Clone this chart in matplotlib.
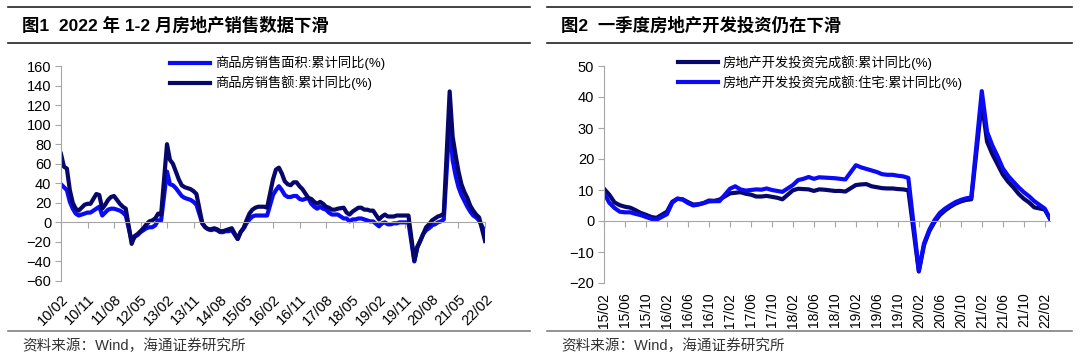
import numpy as np
import pandas as pd
import matplotlib
matplotlib.use('Agg')
import matplotlib.pyplot as plt
from matplotlib.lines import Line2D

plt.rcParams['font.family'] = ['Liberation Sans', 'Noto Sans CJK SC']

# 图1：商品房销售，累计同比(%)，每年2-12月（1月无数据）
sales_area = [
    39, 36, 33, 21, 14, 9, 7, 8, 9, 10, 10,           # 2010
    14, 16, 7, 10, 13, 14, 14, 13, 12, 10, 7,          # 2011
    -19, -15, -13, -10, -8, -6, -5, -5, -3, 2, 2,      # 2012
    52, 39, 38, 35, 31, 27, 25, 24, 23, 21, 18,        # 2013
    -1, -5, -7, -8, -7, -8, -10, -10, -9, -9, -8,      # 2014
    -17, -10, -6, -1, 3, 6, 7, 7, 7, 7, 7,             # 2015
    28, 33, 37, 33, 28, 26, 26, 27, 27, 24, 23,        # 2016
    25, 19, 16, 14, 16, 14, 13, 10, 8, 8, 8,           # 2017
    4, 4, 1, 3, 3, 4, 4, 3, 2, 1, 1,                   # 2018
    -4, -1, 0, -2, -2, -1, -1, 0, 0, 0, 0,             # 2019
    -40, -26, -19, -12, -8, -6, -3, -2, 0, 1, 3,       # 2020
    105, 64, 48, 36, 28, 22, 16, 11, 7, 5, 2,          # 2021
    -10,                                               # 2022
]
sales_amount = [
    70, 57, 55, 33, 20, 14, 12, 15, 18, 19, 19,
    29, 28, 14, 18, 23, 26, 27, 23, 19, 16, 14,
    -22, -14, -12, -9, -6, -2, 1, 2, 4, 9, 8,
    80, 64, 60, 52, 44, 38, 36, 35, 34, 32, 29,
    -1, -5, -7, -7, -6, -7, -9, -9, -8, -7, -6,
    -17, -10, -6, 2, 9, 13, 15, 16, 16, 16, 15,
    44, 54, 56, 50, 42, 39, 38, 41, 41, 37, 34,
    25, 24, 21, 19, 21, 19, 16, 15, 13, 13, 14,
    15, 10, 8, 11, 13, 15, 15, 13, 13, 12, 12,
    3, 6, 8, 6, 6, 6, 7, 7, 7, 7, 7,
    -39, -25, -19, -12, -5, -2, 2, 4, 6, 7, 9,
    134, 88, 69, 52, 39, 31, 25, 17, 12, 8, 5,
    -19,
]

# 图2：房地产开发投资完成额，累计同比(%)
invest_total = [
    10.4, 8.5, 6.0, 5.1, 4.6, 4.3, 3.5, 2.6, 2.0, 1.3, 1.0,        # 2015
    3.0, 6.2, 7.2, 7.0, 6.1, 5.3, 5.4, 5.8, 6.6, 6.5, 6.9,         # 2016
    8.9, 9.1, 9.3, 8.8, 8.5, 7.9, 7.9, 8.1, 7.8, 7.5, 7.0,         # 2017
    9.9, 10.4, 10.3, 10.2, 9.7, 10.2, 10.1, 9.9, 9.7, 9.7, 9.5,    # 2018
    11.6, 11.8, 11.9, 11.2, 10.9, 10.6, 10.5, 10.5, 10.3, 10.2, 9.9,  # 2019
    -16.3, -7.7, -3.3, -0.3, 1.9, 3.4, 4.6, 5.6, 6.3, 6.8, 7.0,    # 2020
    38.3, 25.6, 21.6, 18.3, 15.0, 12.7, 10.9, 8.8, 7.2, 6.0, 4.4,  # 2021
    3.7, 0.7,                                                      # 2022
]
invest_house = [
    9.1, 5.9, 4.2, 3.0, 2.8, 2.8, 2.3, 1.9, 1.3, 0.7, 0.4,
    2.2, 5.9, 7.2, 6.9, 5.8, 5.0, 5.3, 5.8, 6.3, 6.4, 6.4,
    10.4, 11.2, 10.2, 9.8, 10.0, 10.2, 10.1, 10.5, 10.0, 9.7, 9.4,
    11.6, 13.2, 13.6, 14.2, 13.6, 14.1, 14.0, 13.9, 13.8, 13.6, 13.4,
    18.0, 17.3, 16.8, 16.3, 15.8, 15.1, 14.9, 14.9, 14.6, 14.4, 13.9,
    -16.0, -7.2, -2.8, 0.3, 2.6, 4.0, 5.1, 6.1, 6.8, 7.3, 7.6,
    41.9, 28.8, 24.4, 20.9, 17.0, 14.6, 12.7, 10.9, 9.3, 8.0, 6.4,
    4.0, 0.7,
]

months1 = pd.period_range('2010-02', '2022-02', freq='M')
months2 = pd.period_range('2015-02', '2022-03', freq='M')

BLUE = '#0A0AF5'
NAVY = '#06066B'
GREY = '#A6A6A6'

W, H = 1080, 363
fig = plt.figure(figsize=(W / 100, H / 100), dpi=100)


def fx(px):
    return px / W


def fy(py):
    return 1 - py / H


def positions(months):
    # 1月没有数据，线条直接连到2月
    idx = np.arange(len(months))
    return idx[np.array([m.month != 1 for m in months])]


def style_axes(ax, months, every, ylim, step, rot):
    n = len(months)
    ax.set_xlim(0, n - 1)
    ax.set_ylim(*ylim)
    for s in ['top', 'right']:
        ax.spines[s].set_visible(False)
    ax.spines['left'].set_color(GREY)
    ax.spines['bottom'].set_position(('data', 0))
    ax.spines['bottom'].set_color(GREY)
    ax.set_yticks(np.arange(ylim[0], ylim[1] + 1, step))
    ax.tick_params(axis='y', direction='out', length=4, color=GREY,
                   labelsize=10.5, pad=3)
    ticks = np.arange(0, n, every)
    ax.set_xticks(ticks)
    ax.tick_params(axis='x', direction='out', length=4, color=GREY,
                   labelbottom=False)
    labels = [months[i].strftime('%y/%m') for i in ticks]
    sec = ax.secondary_xaxis('bottom')
    sec.spines['bottom'].set_visible(False)
    sec.set_xticks(ticks)
    if rot == 45:
        sec.set_xticklabels(labels, rotation=45, ha='right',
                            rotation_mode='anchor')
        sec.tick_params(length=0, labelsize=10.5, pad=8)
    else:
        sec.set_xticklabels(labels, rotation=90)
        sec.tick_params(length=0, labelsize=10, pad=7)


# 左图
ax1 = fig.add_axes([fx(61), fy(281), fx(485 - 61), (281 - 66) / H])
x1 = positions(months1)
ax1.plot(x1, sales_area, color=BLUE, lw=3, label='商品房销售面积:累计同比(%)')
ax1.plot(x1, sales_amount, color=NAVY, lw=3, label='商品房销售额:累计同比(%)')
style_axes(ax1, months1, 9, (-60, 160), 20, 45)
ax1.legend(loc='upper left', bbox_to_anchor=(fx(170), fy(56)),
           bbox_transform=fig.transFigure, frameon=False, fontsize=9.5,
           handlelength=3.0, handletextpad=0.4, labelspacing=0.4,
           borderpad=0, borderaxespad=0)

# 右图
ax2 = fig.add_axes([fx(604), fy(283), fx(1050 - 604), (283 - 66) / H])
x2 = positions(months2)
ax2.plot(x2, invest_total, color=NAVY, lw=3, label='房地产开发投资完成额:累计同比(%)')
ax2.plot(x2, invest_house, color=BLUE, lw=3, label='房地产开发投资完成额:住宅:累计同比(%)')
style_axes(ax2, months2, 4, (-20, 50), 10, 90)
ax2.legend(loc='upper left', bbox_to_anchor=(fx(678), fy(55)),
           bbox_transform=fig.transFigure, frameon=False, fontsize=9.5,
           handlelength=3.0, handletextpad=0.4, labelspacing=0.4,
           borderpad=0, borderaxespad=0)

# 标题、横线与资料来源
for x0, x1_, title in [(8, 530, '图1  2022 年 1-2 月房地产销售数据下滑'),
                       (547, 1072, '图2  一季度房地产开发投资仍在下滑')]:
    fig.add_artist(Line2D([fx(x0), fx(x1_)], [fy(7), fy(7)], color='#222222', lw=1.2))
    fig.add_artist(Line2D([fx(x0), fx(x1_)], [fy(43), fy(43)], color='#222222', lw=1.2))
    fig.add_artist(Line2D([fx(x0), fx(x1_)], [fy(331), fy(331)], color='#7F7F7F', lw=1.2))
    fig.text(fx(x0 + 14), fy(25), title, fontsize=12.5, fontweight='bold',
             va='center', ha='left')
    fig.text(fx(x0 + 14), fy(346), '资料来源：Wind，海通证券研究所', fontsize=10.5,
             color='#333333', va='center', ha='left')

fig.savefig('out.png', dpi=100)
